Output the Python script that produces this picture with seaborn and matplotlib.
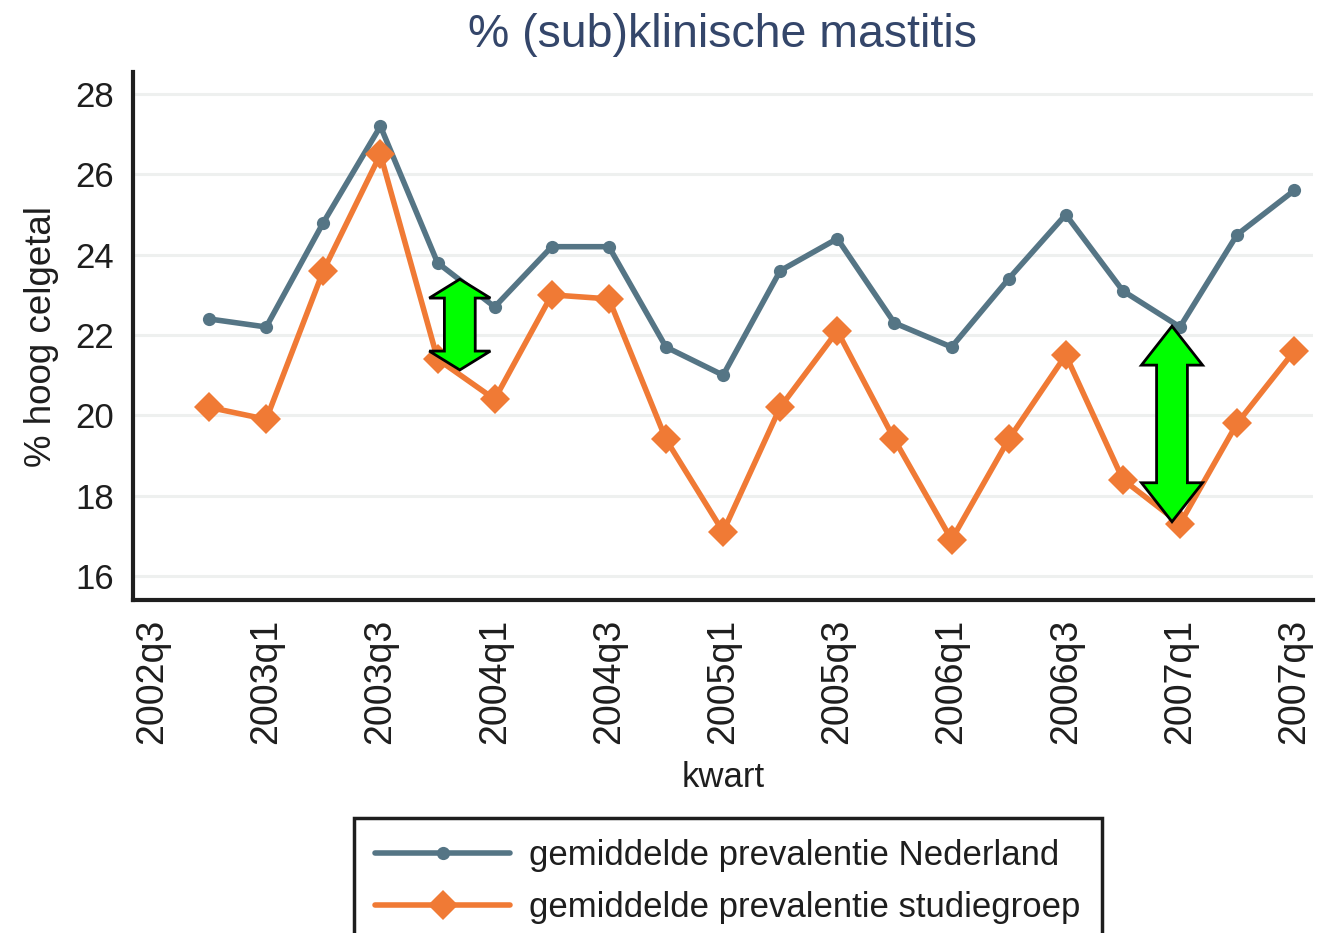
import numpy as np
import pandas as pd
import matplotlib
matplotlib.use("Agg")
import matplotlib.pyplot as plt
import seaborn as sns
from matplotlib.patches import Polygon

# ==========================
# DATA
# ==========================

quarters = [
    "2002q4", "2003q1", "2003q2", "2003q3", "2003q4",
    "2004q1", "2004q2", "2004q3", "2004q4", "2005q1",
    "2005q2", "2005q3", "2005q4", "2006q1", "2006q2",
    "2006q3", "2006q4", "2007q1", "2007q2", "2007q3",
]

nederland = [
    22.4, 22.2, 24.8, 27.2, 23.8,
    22.7, 24.2, 24.2, 21.7, 21.0,
    23.6, 24.4, 22.3, 21.7, 23.4,
    25.0, 23.1, 22.2, 24.5, 25.6,
]

studiegroep = [
    20.2, 19.9, 23.6, 26.5, 21.4,
    20.4, 23.0, 22.9, 19.4, 17.1,
    20.2, 22.1, 19.4, 16.9, 19.4,
    21.5, 18.4, 17.3, 19.8, 21.6,
]

tick_labels = [
    "2002q3", "2003q1", "2003q3", "2004q1", "2004q3", "2005q1",
    "2005q3", "2006q1", "2006q3", "2007q1", "2007q3",
]

y_ticks = [16, 18, 20, 22, 24, 26, 28]

# green double arrows (annotation): x position (quarter), top y, bottom y, head length
arrow_x = [5.39, 17.86]
arrow_top = [23.39, 22.22]
arrow_bottom = [21.13, 17.35]
arrow_head = [0.47, 0.97]


def qnum(label):
    # quarter index relative to 2002q3
    year = int(label[:4])
    q = int(label[-1])
    return (year * 4 + q) - (2002 * 4 + 3)


df = pd.DataFrame({
    "kwart": [qnum(q) for q in quarters],
    "ned": nederland,
    "stud": studiegroep,
})

# ==========================
# STYLE
# ==========================

sns.set_style("white")
plt.rcParams['font.family'] = ['Liberation Sans', 'DejaVu Sans']

blue = "#557585"
orange = "#F07A35"
ink = "#1e1e1e"

fig = plt.figure(figsize=(13.19, 9.33), dpi=100)
ax = fig.add_axes([0.1008, 0.3569, 0.8947, 0.5659])

for y in y_ticks:
    ax.axhline(y, color="#EEF0EF", linewidth=2.2, zorder=0)

sns.lineplot(
    data=df, x="kwart", y="ned", ax=ax,
    color=blue, linewidth=4, marker="o", markersize=9.5,
    markeredgewidth=0, label="gemiddelde prevalentie Nederland",
)

sns.lineplot(
    data=df, x="kwart", y="stud", ax=ax,
    color=orange, linewidth=4, marker="D", markersize=15,
    markeredgewidth=0, label="gemiddelde prevalentie studiegroep",
)

# arrows
for xc, yt, yb, hl in zip(arrow_x, arrow_top, arrow_bottom, arrow_head):
    hw = 0.535
    sw = 0.27
    pts = [
        (xc, yt), (xc + hw, yt - hl), (xc + sw, yt - hl),
        (xc + sw, yb + hl), (xc + hw, yb + hl), (xc, yb),
        (xc - hw, yb + hl), (xc - sw, yb + hl), (xc - sw, yt - hl),
        (xc - hw, yt - hl),
    ]
    ax.add_patch(Polygon(pts, closed=True, facecolor="#00FF00",
                         edgecolor="black", linewidth=2, zorder=5))

ax.set_xlim(-0.333, 20.33)
ax.set_ylim(15.4, 28.55)

ax.set_xticks([qnum(t) for t in tick_labels])
ax.set_xticklabels(tick_labels, rotation=90)
ax.set_yticks(y_ticks)

ax.tick_params(axis="both", direction="out", length=7.5, width=2.5,
               color=ink, labelcolor=ink)
ax.tick_params(axis="y", labelsize=25, pad=6)
ax.tick_params(axis="x", labelsize=27, pad=6)

for side in ["top", "right"]:
    ax.spines[side].set_visible(False)
for side in ["left", "bottom"]:
    ax.spines[side].set_color(ink)
    ax.spines[side].set_linewidth(3)

ax.set_xlabel("kwart", fontsize=25, color=ink, labelpad=12)
ax.set_ylabel("% hoog celgetal", fontsize=26.5, color=ink, labelpad=12)

fig.text(0.5475, 0.963, "% (sub)klinische mastitis", ha="center", va="center",
         fontsize=33.5, color="#34466A")

ax.legend_.remove()
h, l = ax.get_legend_handles_labels()
leg = fig.legend(
    h, l, loc="upper left", bbox_to_anchor=(0.2684, 0.1233),
    fontsize=25, frameon=True, fancybox=False, framealpha=1,
    borderaxespad=0, handlelength=3.9, borderpad=0.6,
    labelspacing=0.55, handletextpad=0.55,
)
leg.get_frame().set_edgecolor(ink)
leg.get_frame().set_linewidth(2.5)
for t in leg.get_texts():
    t.set_color(ink)
for ln in leg.get_lines():
    ln.set_linewidth(4)

fig.savefig("out.png", dpi=100)
